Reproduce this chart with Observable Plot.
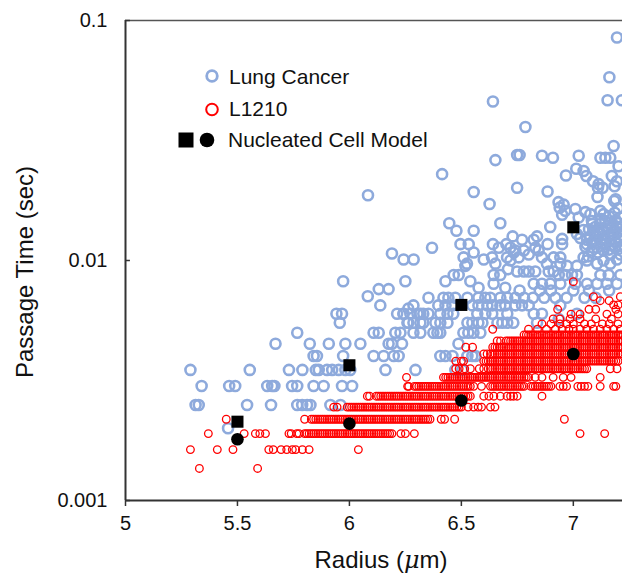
<!DOCTYPE html>
<html><head><meta charset="utf-8">
<script src="https://cdn.jsdelivr.net/npm/d3@7"></script>
<script src="https://cdn.jsdelivr.net/npm/@observablehq/plot@0.6"></script>
<style>
html,body{margin:0;padding:0;background:#fff;overflow:hidden;}
#chart{position:relative;width:622px;height:574px;overflow:hidden;}
#chart svg{max-width:none !important;width:640px !important;height:574px !important;display:block;}
</style></head><body><div id="chart"></div>
<script>
// ---- Lung cancer cells: scattered points (radius µm, passage time s)
const lungRadius = [
  5.29,5.555,5.34,5.463,5.49,5.633,5.655,5.665,5.744,5.767,5.84,5.313,5.327,5.543,5.65,5.767,5.789,5.811,5.826,5.458,5.73,5.79,5.85,5.84,5.855,5.67,5.823,5.767,
  6.19,6.242,5.972,6.25,6.082,6.131,6.175,6.138,6.213,6.242,6.263,6.263,5.942,5.967,5.957,6.108,6.131,6.205,6.228,5.908,5.982,6.049,6.175,6.19,6.235,5.972,6.108,6.153,6.198,6.22,5.863,5.9,5.923,5.952,5.982,6.004,6.161,5.885,5.967,6.012,5.915,5.96,
  6.414,6.641,6.652,6.749,6.749,6.555,6.626,6.446,6.478,6.555,6.674,6.729,6.369,6.496,6.533,6.555,6.641,6.667,6.701,6.734,6.756,6.287,6.51,6.525,6.518,6.6,6.637,6.652,6.704,6.719,6.708,6.466,6.488,6.429,6.54,6.577,6.644,6.674,6.696,6.644,
  7.195,7.161,7.153,7.217,6.786,6.76,6.86,6.909,7.024,7.121,7.143,7.165,7.18,6.083,6.885,6.967,7.013,7.046,7.088,7.11,7.131,7.184,7.189,7.108,7.183,
  6.934,6.957,6.939,6.964,6.95,7.009,7.054,7.076,7.121,7.135,7.024,7.083,7.143,7.165,6.897,7.098,7.128,7.15,7.165,7.195,7.21,
  6.771,6.823,6.838,6.885,6.95,6.95,7.016,7.031,7.061,7.083,7.106,7.128,7.143,7.165,7.187,7.202,7.106,7.135,7.165,7.21,7.083,7.067,7.054,
  6.719,6.741,6.779,6.801,6.83,6.845,6.86,6.912,6.942,6.882,6.942,6.972,7.016,7.046,7.061,7.106,7.135,7.165,7.195,
  6.935,7.058,7.113,7.172,7.202,7.195,7.1,7.12,7.17,7.2,7.19,7.215,7.175,7.14,7.09,7.075,7.215,7.2,7.185,7.16,7.2,
  7.07,7.095,7.115,7.155,7.18,7.21,7.06,7.13,7.16,7.205,7.085,7.15,7.19,7.11,7.175,7.045,7.215,7.125
];
const lungTime = [
  .0035,.0035,.003,.003,.003,.003,.003,.003,.003,.003,.003,.0025,.0025,.0025,.0025,.0025,.0025,.0025,.0025,.002,.0035,.0035,.0035,.004,.004,.0045,.0045,.005,
  .0107,.0101,.0082,.0082,.0071,.0076,.0076,.0065,.006,.006,.0063,.0055,.006,.006,.0055,.005,.005,.005,.005,.0045,.0045,.0045,.0045,.0045,.0045,.004,.004,.004,.004,.004,.0035,.0035,.0035,.0035,.0035,.0035,.0035,.003,.003,.003,.0025,.0025,
  .0229,.046,.0262,.0275,.0201,.0193,.0172,.0143,.0133,.0133,.0143,.0126,.0113,.0117,.0117,.0108,.0117,.0113,.0117,.0108,.0103,.0101,.0103,.0097,.0095,.0101,.0103,.0097,.0103,.01,.0092,.0087,.0087,.0082,.0082,.0077,.0087,.0087,.0077,.008,
  .085,.058,.0465,.0465,.036,.0275,.0273,.0268,.0273,.0268,.0268,.0268,.03,.0187,.0194,.0226,.0241,.0236,.0214,.0201,.0201,.0204,.018,.0184,.0177,
  .0175,.0171,.0166,.0161,.0155,.0164,.0159,.0156,.0161,.0156,.0151,.0146,.0146,.0143,.0138,.0138,.0133,.0135,.0129,.0137,.0151,
  .0122,.0122,.0126,.0117,.0123,.0117,.0129,.0124,.0122,.0119,.0126,.0122,.0117,.0121,.0113,.0124,.0113,.011,.0106,.0106,.011,.0104,.0114,
  .0113,.011,.011,.0106,.0113,.011,.0103,.0103,.0103,.0097,.0097,.0095,.0095,.0103,.01,.0097,.01,.0097,.0101,
  .0057,.0225,.0208,.0225,.0247,.0214,.0128,.0142,.0138,.0131,.0119,.0115,.0116,.0124,.0131,.0126,.0128,.0143,.0158,.0153,.0165,
  .0135,.0121,.0133,.0126,.0127,.0121,.0117,.0118,.0111,.0112,.0142,.0139,.0147,.0108,.0132,.0134,.0139,.0149
];
// ---- Lung cancer cells sharing a passage time (rows)
const lungRowTime = [0.007, 0.0065, 0.006, 0.0055, 0.005, 0.0045, 0.004, 0.0035, 0.009, 0.0087, 0.008, 0.0075];
const lungRowRadius = [
  [6.353,6.42,6.442,6.473,6.527,6.576,6.607,6.629,6.674,6.705,6.741,6.78,6.82,6.87,6.92,6.97,7.05,7.1],
  [6.286,6.397,6.429,6.46,6.549,6.576,6.616,6.638,6.674,6.696,6.741,6.771,6.801,6.942],
  [6.241,6.272,6.304,6.317,6.33,6.353,6.406,6.438,6.464,6.571,6.607,6.638,6.705,6.823,6.86,7.016],
  [6.259,6.286,6.317,6.33,6.384,6.406,6.438,6.527,6.549,6.576,6.594,6.661,6.683,6.705,6.732,6.838],
  [6.286,6.317,6.375,6.393,6.406,6.509,6.531,6.554,6.585],
  [6.487],
  [6.406,6.429,6.46,6.527,6.549,6.563],
  [6.295,6.473,6.504],
  [6.749,6.779,6.801,6.83,6.89,6.912],
  [6.935,6.964,6.994,7.016,7.121,7.158,7.21],
  [6.823,6.86,6.897,6.942,7.009,7.061,7.106,7.15,7.195],
  [6.76,6.85,6.9,7.0,7.07,7.16]
];
// ---- L1210 cells (rows of equal passage time)
const l1210Time = [0.00136,0.00163,0.0019,0.00218,0.00245,0.00272,0.00299,0.00326,0.00354,0.00381,0.00408,0.00435,0.00462,0.0049,0.00517,0.00544,0.00571,0.00598,0.00626,0.00653,0.0068,0.00707,0.00816];
const l1210Radius = [
  [5.33,5.59],
  [5.29,5.41,5.48,5.64,5.66,5.695,5.72,5.745,5.76,5.79,5.82,6.04],
  [5.37,5.53,5.58,5.6,5.625,5.73,5.74,5.765,5.775,5.8,5.81,5.82,5.83,5.84,5.85,5.86,5.87,5.88,5.89,5.9,5.91,5.92,5.93,5.94,5.95,5.96,5.97,5.98,5.99,6,6.01,6.02,6.03,6.04,6.05,6.06,6.07,6.08,6.09,6.1,6.11,6.12,6.13,6.14,6.15,6.16,6.17,6.18,6.19,6.23,6.25,6.29,7.03,7.14],
  [5.45,5.8,5.83,5.84,5.85,5.86,5.87,5.88,5.89,5.9,5.91,5.92,5.93,5.94,5.95,5.96,5.97,5.98,5.99,6,6.01,6.02,6.03,6.04,6.05,6.06,6.07,6.08,6.09,6.1,6.11,6.12,6.13,6.14,6.15,6.16,6.17,6.18,6.19,6.2,6.21,6.22,6.23,6.24,6.25,6.26,6.27,6.28,6.29,6.3,6.31,6.32,6.33,6.34,6.35,6.36,6.41,6.425,6.47,6.96],
  [5.93,5.945,5.99,6,6.01,6.02,6.03,6.04,6.05,6.06,6.07,6.08,6.09,6.1,6.11,6.12,6.13,6.14,6.15,6.16,6.17,6.18,6.19,6.2,6.21,6.22,6.23,6.24,6.25,6.26,6.27,6.28,6.29,6.3,6.31,6.32,6.33,6.34,6.35,6.36,6.37,6.38,6.39,6.4,6.41,6.42,6.43,6.44,6.45,6.46,6.47,6.48,6.49,6.5,6.53,6.555,6.575,6.59,6.63,6.65],
  [6.08,6.09,6.12,6.13,6.14,6.15,6.16,6.17,6.18,6.19,6.2,6.21,6.22,6.23,6.24,6.25,6.26,6.27,6.28,6.29,6.3,6.31,6.32,6.33,6.34,6.35,6.36,6.37,6.38,6.39,6.4,6.41,6.42,6.43,6.44,6.45,6.46,6.47,6.48,6.49,6.5,6.51,6.52,6.53,6.54,6.6,6.623,6.645,6.674,6.704,6.72,6.733,6.749,6.86],
  [6.26,6.265,6.29,6.3,6.31,6.32,6.33,6.34,6.35,6.36,6.37,6.38,6.39,6.4,6.41,6.42,6.43,6.44,6.45,6.46,6.47,6.48,6.49,6.5,6.51,6.52,6.53,6.54,6.555,6.59,6.63,6.64,6.65,6.66,6.67,6.68,6.69,6.7,6.71,6.72,6.73,6.74,6.75,6.76,6.77,6.78,6.81,6.82,6.83,6.84,6.85,6.86,6.87,6.88,6.89,6.9,6.94,6.955,6.97,7.02,7.035,7.05,7.065,7.12,7.18,7.19],
  [6.255,6.42,6.43,6.44,6.45,6.46,6.47,6.48,6.49,6.5,6.51,6.52,6.53,6.54,6.55,6.56,6.57,6.58,6.59,6.6,6.61,6.62,6.63,6.64,6.65,6.66,6.67,6.68,6.69,6.7,6.71,6.72,6.73,6.74,6.75,6.76,6.77,6.78,6.79,6.8,6.83,6.86,6.91,6.955,6.99,7.12],
  [6.475,6.49,6.515,6.54,6.58,6.6,6.62,6.63,6.64,6.65,6.66,6.67,6.68,6.69,6.7,6.71,6.72,6.73,6.74,6.75,6.76,6.77,6.78,6.79,6.8,6.81,6.82,6.83,6.84,6.85,6.86,6.87,6.88,6.89,6.9,6.91,6.92,6.93,6.94,6.95,6.96,6.97,6.98,6.99,7,7.01,7.02,7.03,7.04,7.05,7.06,7.165,7.195],
  [6.475,6.5,6.51,6.6,6.61,6.62,6.63,6.64,6.65,6.66,6.67,6.68,6.69,6.7,6.71,6.72,6.73,6.74,6.75,6.76,6.77,6.78,6.79,6.8,6.81,6.82,6.83,6.84,6.85,6.86,6.87,6.88,6.89,6.9,6.91,6.92,6.93,6.94,6.95,6.96,6.97,6.98,6.99,7,7.01,7.02,7.03,7.04,7.05,7.06,7.07,7.08,7.09,7.1,7.11,7.12,7.13,7.14,7.15,7.16,7.17,7.18,7.19,7.2],
  [6.6,6.615,6.63,6.64,6.65,6.66,6.67,6.68,6.69,6.7,6.71,6.72,6.73,6.74,6.75,6.76,6.77,6.78,6.79,6.8,6.81,6.82,6.83,6.84,6.85,6.86,6.87,6.88,6.89,6.9,6.91,6.92,6.93,6.94,6.95,6.96,6.97,6.98,6.99,7,7.01,7.02,7.03,7.04,7.05,7.06,7.07,7.08,7.09,7.1,7.11,7.12,7.13,7.14,7.15,7.16,7.17,7.18,7.19,7.2,7.21,7.22],
  [6.52,6.55,6.64,6.65,6.66,6.67,6.68,6.69,6.7,6.71,6.72,6.73,6.74,6.75,6.76,6.77,6.78,6.79,6.8,6.81,6.82,6.83,6.84,6.85,6.86,6.87,6.88,6.89,6.9,6.91,6.92,6.93,6.94,6.95,6.96,6.97,6.98,6.99,7,7.01,7.02,7.03,7.04,7.05,7.06,7.07,7.08,7.09,7.1,7.11,7.12,7.13,7.14,7.15,7.16,7.17,7.18,7.19,7.2,7.21,7.22],
  [6.66,6.675,6.7,6.71,6.72,6.73,6.74,6.75,6.76,6.77,6.78,6.79,6.8,6.81,6.82,6.83,6.84,6.85,6.86,6.87,6.88,6.89,6.9,6.91,6.92,6.93,6.94,6.95,6.96,6.97,6.98,6.99,7,7.01,7.02,7.03,7.04,7.05,7.06,7.07,7.08,7.09,7.1,7.11,7.12,7.13,7.14,7.15,7.16,7.17,7.18,7.19,7.2,7.21,7.22],
  [6.78,6.79,6.8,6.81,6.82,6.83,6.84,6.85,6.86,6.87,6.88,6.89,6.9,6.91,6.92,6.93,6.94,6.95,6.96,6.97,6.98,6.99,7,7.01,7.02,7.03,7.04,7.05,7.06,7.07,7.08,7.09,7.1,7.11,7.12,7.13,7.14,7.15,7.16,7.17,7.18,7.19,7.2,7.21,7.22],
  [6.64,6.8,6.84,6.88,6.92,6.95,6.98,7,7.03,7.06,7.09,7.12,7.15,7.18,7.21],
  [6.86,6.9,6.94,6.97,7,7.05,7.08,7.13,7.16,7.2],
  [6.91,6.94,6.985,7.03,7.1,7.17],
  [6.99,7.03,7.15,7.2],
  [6.93,7.07,7.1,7.19],
  [7.18,7.2],
  [7.12,7.16],
  [7.09,7.21],
  [7.0]
];
// ---- Nucleated cell model
const modelRadius = [5.5, 6, 6.5, 7];
const modelLung = [0.00213, 0.00366, 0.00653, 0.01375];
const modelL1210 = [0.0018, 0.00209, 0.00261, 0.00408];
// ---- Axes
const xTicks = [5, 5.5, 6, 6.5, 7];
const yTicks = [0.001, 0.01, 0.1];
const xDomain = [5, 7.3];
const yDomain = [0.001, 0.1];

const n = Math.min(lungRadius.length, lungTime.length);
const lung = d3.range(n).map(i => ({r: lungRadius[i], t: lungTime[i]}))
  .concat(lungRowTime.flatMap((t, i) => lungRowRadius[i].map(r => ({r, t}))));
const l1210 = l1210Time.flatMap((t, i) => l1210Radius[i].map(r => ({r, t})));
const model = modelRadius.map((r, i) => ({r, lung: modelLung[i], l1210: modelL1210[i]}));

const font = "'Liberation Sans', Arial, Helvetica, sans-serif";
const blue = "#8eaadc", red = "#ff0000", axisColor = "#333";
const fmt = d => String(d);

const plot = Plot.plot({
  width: 640, height: 574,
  marginLeft: 125, marginRight: 0, marginTop: 20, marginBottom: 74,
  style: {fontFamily: font, fontSize: "20px", color: "#111", background: "#fff", overflow: "visible", maxWidth: "none"},
  x: {domain: xDomain, ticks: xTicks, tickFormat: fmt},
  y: {type: "log", domain: yDomain, ticks: yTicks, tickFormat: fmt},
  marks: [
    Plot.dot(lung, {x: "r", y: "t", r: 5, stroke: blue, strokeWidth: 2.6, fill: "none"}),
    Plot.dot(l1210, {x: "r", y: "t", r: 3.8, stroke: red, strokeWidth: 1.3, fill: "none"}),
    Plot.dot(model, {x: "r", y: "lung", symbol: "square", r: 6.8, fill: "#000"}),
    Plot.dot(model, {x: "r", y: "l1210", r: 6.3, fill: "#000"}),
    Plot.ruleY([yDomain[1]], {stroke: "#555", strokeWidth: 1.4}),
    Plot.ruleX([xDomain[0]], {stroke: axisColor, strokeWidth: 2}),
    Plot.ruleY([yDomain[0]], {stroke: axisColor, strokeWidth: 2}),
    Plot.ruleY(yTicks, {x1: xDomain[0], x2: xDomain[0] + 0.022, stroke: axisColor, strokeWidth: 1.5}),
    Plot.axisX({ticks: xTicks, tickFormat: fmt, tickSize: 6, tickPadding: 9, label: null, stroke: axisColor, strokeWidth: 1.5, fontSize: 20, fill: "#111"}),
    Plot.axisY({ticks: yTicks, tickFormat: fmt, tickSize: 0, tickPadding: 18, label: null, fontSize: 20, fill: "#111"})
  ]
});

const svg = d3.select(plot);
// Axis titles
const xt = svg.append("text").attr("x", 381).attr("y", 568).attr("text-anchor", "middle")
  .style("font-family", font).style("font-size", "24px").attr("fill", "#111");
xt.append("tspan").text("Radius (");
xt.append("tspan").style("font-style", "italic").style("font-family", "'DejaVu Serif', serif").text("μ");
xt.append("tspan").text("m)");
svg.append("text").attr("transform", "translate(33,272) rotate(-90)").attr("text-anchor", "middle")
  .style("font-family", font).style("font-size", "24px").attr("fill", "#111").text("Passage Time (sec)");

// Legend
const lg = svg.append("g").style("font-family", font).style("font-size", "21px").attr("fill", "#111").attr("text-anchor", "start");
lg.append("circle").attr("cx", 212).attr("cy", 76).attr("r", 5.3).attr("fill", "none").attr("stroke", blue).attr("stroke-width", 2.8);
lg.append("text").attr("x", 229).attr("y", 83.5).text("Lung Cancer");
lg.append("circle").attr("cx", 212).attr("cy", 109.5).attr("r", 5.8).attr("fill", "none").attr("stroke", red).attr("stroke-width", 2);
lg.append("text").attr("x", 229).attr("y", 116).text("L1210");
lg.append("rect").attr("x", 178.5).attr("y", 132.5).attr("width", 15).attr("height", 15).attr("fill", "#000");
lg.append("circle").attr("cx", 207).attr("cy", 140).attr("r", 7.3).attr("fill", "#000");
lg.append("text").attr("x", 228).attr("y", 147).text("Nucleated Cell Model");

document.getElementById("chart").appendChild(plot);
</script>
</body></html>
